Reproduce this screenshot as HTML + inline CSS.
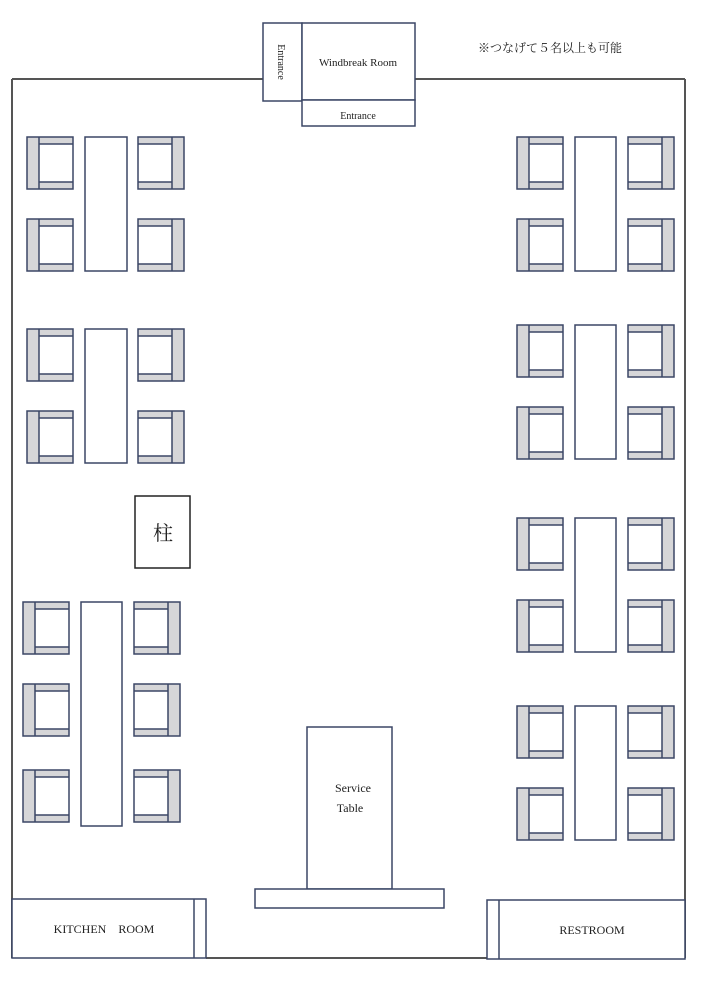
<!DOCTYPE html>
<html><head><meta charset="utf-8"><style>
html,body{margin:0;padding:0;background:#fff}
svg{display:block}
text{font-family:"Liberation Serif","Noto Serif CJK SC",serif;fill:#222}
</style></head><body>
<svg width="707" height="1000" viewBox="0 0 707 1000" xmlns="http://www.w3.org/2000/svg">
<defs>
<g id="cl">
<rect x="0" y="0" width="46" height="52" fill="#fff"/>
<rect x="0" y="0" width="12" height="52" fill="#d6d6d8"/>
<rect x="12" y="0" width="34" height="7" fill="#d6d6d8"/>
<rect x="12" y="45" width="34" height="7" fill="#d6d6d8"/>
<g fill="none" stroke="#3b4766" stroke-width="1.5">
<rect x="0" y="0" width="46" height="52"/>
<line x1="12" y1="0" x2="12" y2="52"/>
<line x1="12" y1="7" x2="46" y2="7"/>
<line x1="12" y1="45" x2="46" y2="45"/>
</g>
</g>
<g id="cr"><use href="#cl" transform="translate(46,0) scale(-1,1)"/></g>
</defs>
<g fill="none" stroke="#555" stroke-width="2">
<line x1="12" y1="79" x2="263" y2="79"/>
<line x1="415" y1="79" x2="685" y2="79"/>
<line x1="12" y1="79" x2="12" y2="958"/>
<line x1="685" y1="79" x2="685" y2="958"/>
<line x1="206" y1="958" x2="487" y2="958"/>
</g>
<g fill="#fff" stroke="#3b4766" stroke-width="1.5">
<rect x="263" y="23" width="39" height="78"/>
<rect x="302" y="23" width="113" height="77"/>
<rect x="302" y="100" width="113" height="26"/>
<!-- tables -->
<rect x="85" y="137" width="42" height="134"/>
<rect x="85" y="329" width="42" height="134"/>
<rect x="81" y="602" width="41" height="224"/>
<rect x="575" y="137" width="41" height="134"/>
<rect x="575" y="325" width="41" height="134"/>
<rect x="575" y="518" width="41" height="134"/>
<rect x="575" y="706" width="41" height="134"/>
<rect x="307" y="727" width="85" height="162"/>
<rect x="255" y="889" width="189" height="19"/>
<rect x="12" y="899" width="194" height="59"/>
<line x1="194" y1="899" x2="194" y2="958"/>
<rect x="487" y="900" width="198" height="59"/>
<line x1="499" y1="900" x2="499" y2="959"/>
</g>
<rect x="135" y="496" width="55" height="72" fill="#fff" stroke="#222" stroke-width="1.5"/>
<use href="#cl" x="27" y="137"/><use href="#cl" x="27" y="219"/>
<use href="#cr" x="138" y="137"/><use href="#cr" x="138" y="219"/>
<use href="#cl" x="27" y="329"/><use href="#cl" x="27" y="411"/>
<use href="#cr" x="138" y="329"/><use href="#cr" x="138" y="411"/>
<use href="#cl" x="23" y="602"/><use href="#cl" x="23" y="684"/><use href="#cl" x="23" y="770"/>
<use href="#cr" x="134" y="602"/><use href="#cr" x="134" y="684"/><use href="#cr" x="134" y="770"/>
<use href="#cl" x="517" y="137"/><use href="#cl" x="517" y="219"/>
<use href="#cr" x="628" y="137"/><use href="#cr" x="628" y="219"/>
<use href="#cl" x="517" y="325"/><use href="#cl" x="517" y="407"/>
<use href="#cr" x="628" y="325"/><use href="#cr" x="628" y="407"/>
<use href="#cl" x="517" y="518"/><use href="#cl" x="517" y="600"/>
<use href="#cr" x="628" y="518"/><use href="#cr" x="628" y="600"/>
<use href="#cl" x="517" y="706"/><use href="#cl" x="517" y="788"/>
<use href="#cr" x="628" y="706"/><use href="#cr" x="628" y="788"/>
<text x="358" y="66" font-size="11" text-anchor="middle">Windbreak  Room</text>
<text x="358" y="119" font-size="10" text-anchor="middle">Entrance</text>
<text x="0" y="0" font-size="10" text-anchor="middle" transform="translate(278,62) rotate(90)">Entrance</text>
<text x="550" y="52" font-size="12" text-anchor="middle">※つなげて５名以上も可能</text>
<text x="163" y="540" font-size="20" text-anchor="middle">柱</text>
<text x="353" y="792" font-size="12" text-anchor="middle">Service</text>
<text x="350" y="812" font-size="12" text-anchor="middle">Table</text>
<text x="104" y="933" font-size="12" text-anchor="middle">KITCHEN　ROOM</text>
<text x="592" y="934" font-size="12" text-anchor="middle">RESTROOM</text>
</svg>
</body></html>
